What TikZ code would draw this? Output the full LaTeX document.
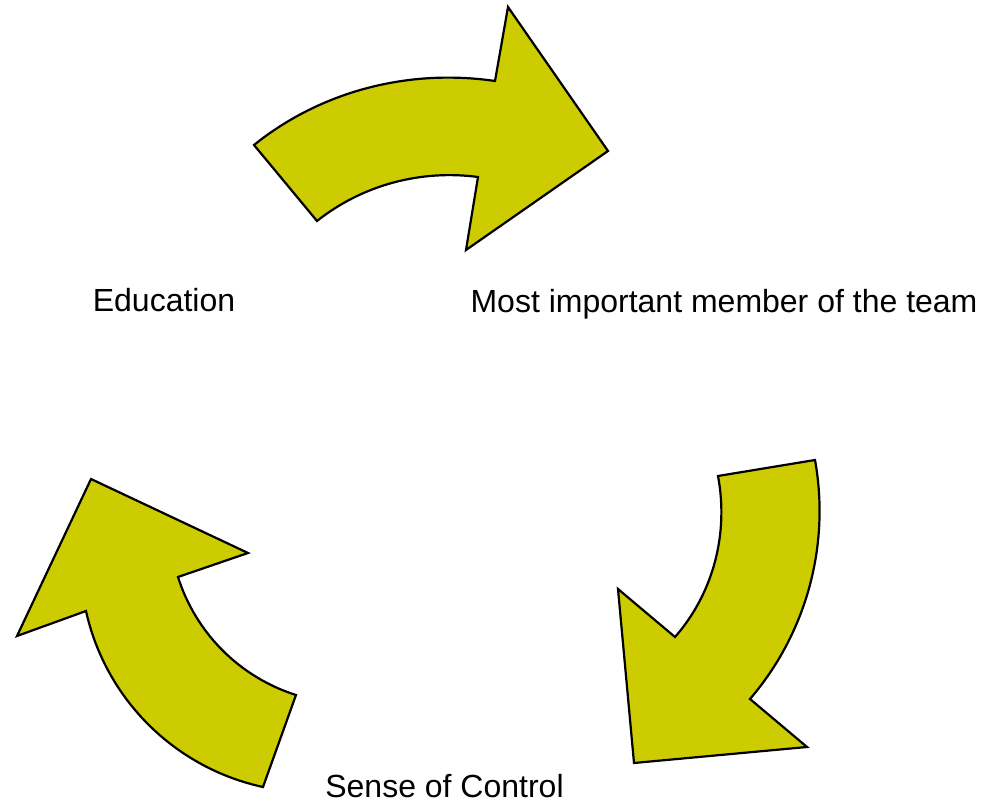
\documentclass[tikz,border=0pt]{standalone}
\usepackage{fontspec}
\setmainfont{Liberation Sans}
\definecolor{arrowfill}{RGB}{204,204,0}
\begin{document}
\begin{tikzpicture}[x=1pt,y=1pt,
  bigarrow/.style={fill=arrowfill,draw=black,line width=2.2pt,line join=miter},
  label/.style={anchor=base,inner sep=0pt,font=\fontsize{32}{38}\selectfont}]
\useasboundingbox (0,0) rectangle (983,806);
% top arrow
\draw[bigarrow] (254,661) .. controls (321.6,715.3) and (409.2,737.5) .. (495,725)
  -- (508,799) -- (608,655) -- (466,556) -- (478,629)
  .. controls (420.6,636.6) and (362.4,621) .. (317,585) -- cycle;
% bottom-right arrow
\draw[bigarrow] (718,330) -- (815,346)
  .. controls (830.4,260.7) and (806.4,172.8) .. (750,107)
  -- (807,59) -- (634,43) -- (618,217) -- (675,169)
  .. controls (713.5,213) and (728.8,272.5) .. (718,330) -- cycle;
% bottom-left arrow
\draw[bigarrow] (263,19) -- (296,111)
  .. controls (239.8,128.8) and (195.8,172.8) .. (178,229)
  -- (248,253) -- (91,327) -- (17,170) -- (86,195)
  .. controls (105.5,106.9) and (174.8,38.1) .. (263,19) -- cycle;
\node[label] (edu) at (164,494) {Education};
\node[label] (most) at (724,493.5) {Most important member of the team};
\node[label] (sense) at (444.5,8.5) {Sense of Control};
\end{tikzpicture}
\end{document}
